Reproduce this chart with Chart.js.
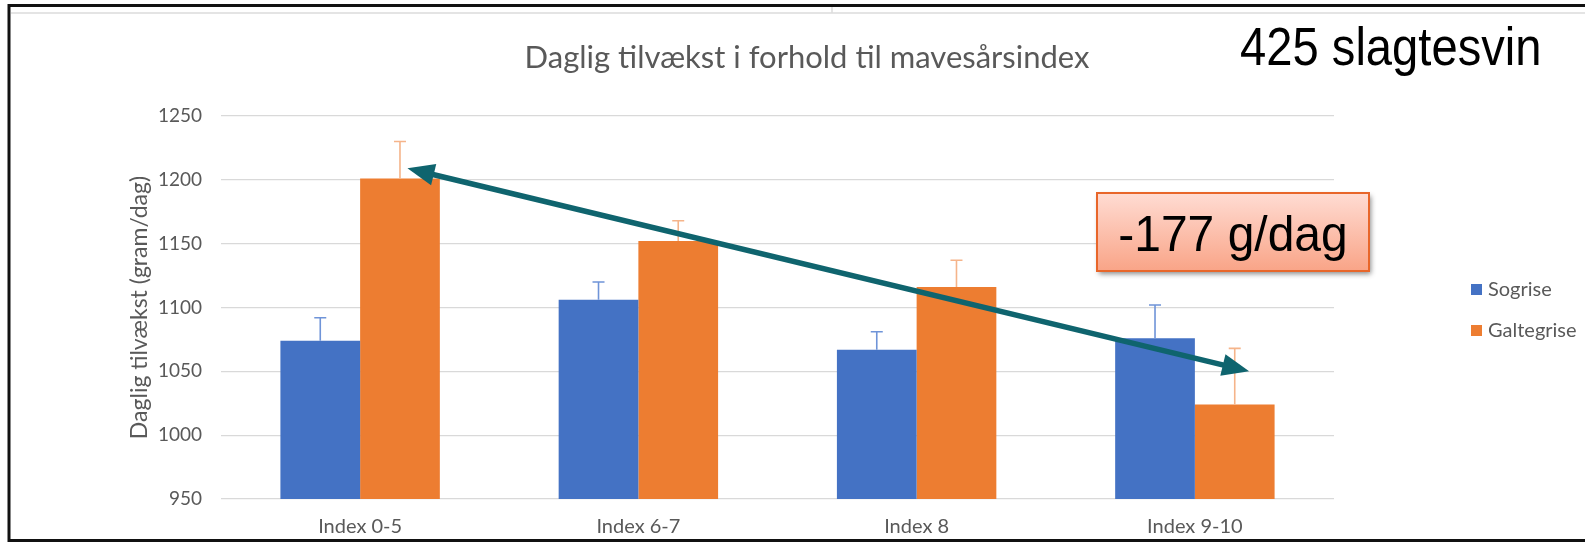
<!DOCTYPE html>
<html>
<head>
<meta charset="utf-8">
<script src="https://cdn.jsdelivr.net/npm/chart.js@4.4.1/dist/chart.umd.min.js"></script>
<style>
  body { margin: 0; background: #fff; }
  #wrap { width: 1585px; height: 542px; }
</style>
</head>
<body>
<div id="wrap"><canvas id="myBarChart" width="1585" height="542"></canvas></div>
<script>
// data
var categories = ['Index 0-5', 'Index 6-7', 'Index 8', 'Index 9-10'];
var sogrise = [1074, 1106, 1067, 1076];
var galtegrise = [1201, 1152, 1116, 1024];
var sogriseErr = [18, 14, 14, 26];
var galtegriseErr = [29, 16, 21, 44];
var seriesNames = ['Sogrise', 'Galtegrise'];
var yMin = 950, yMax = 1250, yStep = 50;

var chartTitle = 'Daglig tilvækst i forhold til mavesårsindex';
var yTitle = 'Daglig tilvækst (gram/dag)';
var headline = '425 slagtesvin';
var callout = '-177 g/dag';
// arrow ends, as [category position, value]
var arrowFrom = [0.17, 1209];
var arrowTo = [3.195, 1050];

var grey = '#595959';
var font = 'Lato, "Open Sans", sans-serif';

function catX(chart, pos) {
    var xs = chart.scales.x;
    var x0 = xs.getPixelForValue(0);
    var step = xs.getPixelForValue(1) - x0;
    return x0 + pos * step;
}

var decor = {
    id: 'decor',
    beforeDraw: function (chart) {
        var ctx = chart.ctx;
        ctx.save();
        ctx.fillStyle = '#fff';
        ctx.fillRect(0, 0, chart.width, chart.height);
        // frame of the slide
        ctx.strokeStyle = '#dcdcdc';
        ctx.lineWidth = 1.5;
        ctx.beginPath();
        ctx.moveTo(11, 13); ctx.lineTo(1585, 13);
        ctx.moveTo(832, 6); ctx.lineTo(832, 13);
        ctx.stroke();
        ctx.strokeStyle = '#111';
        ctx.lineWidth = 3;
        ctx.beginPath();
        ctx.moveTo(1585, 5.5); ctx.lineTo(9, 5.5); ctx.lineTo(9, 540.5); ctx.lineTo(1585, 540.5);
        ctx.stroke();
        ctx.restore();
    },
    afterDatasetsDraw: function (chart) {
        var ctx = chart.ctx;
        var ys = chart.scales.y;
        var errs = [sogriseErr, galtegriseErr];
        var errColors = ['#6f94d8', '#f5b48a'];
        ctx.save();
        // error bars, plus side only
        for (var d = 0; d < 2; d++) {
            var meta = chart.getDatasetMeta(d);
            var vals = chart.data.datasets[d].data;
            ctx.strokeStyle = errColors[d];
            ctx.lineWidth = 1.6;
            meta.data.forEach(function (bar, i) {
                var yTop = ys.getPixelForValue(vals[i] + errs[d][i]);
                ctx.beginPath();
                ctx.moveTo(bar.x, bar.y);
                ctx.lineTo(bar.x, yTop);
                ctx.moveTo(bar.x - 6, yTop);
                ctx.lineTo(bar.x + 6, yTop);
                ctx.stroke();
            });
        }

        // double headed arrow
        var x1 = catX(chart, arrowFrom[0]), y1 = ys.getPixelForValue(arrowFrom[1]);
        var x2 = catX(chart, arrowTo[0]), y2 = ys.getPixelForValue(arrowTo[1]);
        var ang = Math.atan2(y2 - y1, x2 - x1);
        var headLen = 27, headW = 11;
        var cos = Math.cos(ang), sin = Math.sin(ang);
        ctx.strokeStyle = '#0f646e';
        ctx.fillStyle = '#0f646e';
        ctx.lineWidth = 5.5;
        ctx.beginPath();
        ctx.moveTo(x1 + cos * (headLen - 4), y1 + sin * (headLen - 4));
        ctx.lineTo(x2 - cos * (headLen - 4), y2 - sin * (headLen - 4));
        ctx.stroke();
        function head(x, y, dir) {
            var bx = x + dir * cos * headLen, by = y + dir * sin * headLen;
            ctx.beginPath();
            ctx.moveTo(x, y);
            ctx.lineTo(bx - sin * headW, by + cos * headW);
            ctx.lineTo(bx + sin * headW, by - cos * headW);
            ctx.closePath();
            ctx.fill();
        }
        head(x1, y1, 1);
        head(x2, y2, -1);
        ctx.restore();
    },
    afterDraw: function (chart) {
        var ctx = chart.ctx;
        ctx.save();
        // chart title
        ctx.fillStyle = grey;
        ctx.font = '31px ' + font;
        ctx.textAlign = 'center';
        ctx.textBaseline = 'middle';
        ctx.fillText(chartTitle, 807, 58);

        // big headline
        ctx.save();
        ctx.fillStyle = '#000';
        ctx.font = '53px "Liberation Sans", Arial, sans-serif';
        ctx.textAlign = 'left';
        ctx.textBaseline = 'alphabetic';
        ctx.translate(1240, 65);
        ctx.scale(0.89, 1);
        ctx.fillText(headline, 0, 0);
        ctx.restore();

        // callout box
        var bx = 1097, by = 193, bw = 272, bh = 78;
        ctx.save();
        ctx.shadowColor = 'rgba(0,0,0,0.45)';
        ctx.shadowBlur = 5;
        ctx.shadowOffsetX = 2;
        ctx.shadowOffsetY = 3;
        var g = ctx.createLinearGradient(0, by, 0, by + bh);
        g.addColorStop(0, '#ffdcd3');
        g.addColorStop(1, '#f9a487');
        ctx.fillStyle = g;
        ctx.fillRect(bx, by, bw, bh);
        ctx.restore();
        ctx.strokeStyle = '#e8662a';
        ctx.lineWidth = 2;
        ctx.strokeRect(bx, by, bw, bh);
        ctx.save();
        ctx.fillStyle = '#000';
        ctx.font = '50px "Liberation Sans", Arial, sans-serif';
        ctx.textAlign = 'center';
        ctx.textBaseline = 'alphabetic';
        ctx.translate(bx + bw / 2, 251);
        ctx.scale(0.96, 1);
        ctx.fillText(callout, 0, 0);
        ctx.restore();

        // legend
        ctx.font = '20px ' + font;
        ctx.textAlign = 'left';
        ctx.textBaseline = 'middle';
        chart.data.datasets.forEach(function (ds, i) {
            var ly = 290 + i * 41;
            ctx.fillStyle = ds.backgroundColor;
            ctx.fillRect(1471, ly - 6, 11, 11);
            ctx.fillStyle = grey;
            ctx.fillText(ds.label, 1488, ly);
        });
        ctx.restore();
    }
};

var ctx = document.getElementById('myBarChart').getContext('2d');

var myBarChart = new Chart(ctx, {
    type: 'bar',
    data: {
        labels: categories,
        datasets: [{
                label: seriesNames[0],
                data: sogrise,
                backgroundColor: '#4472c4',
                categoryPercentage: 0.573,
                barPercentage: 1
            }, {
                label: seriesNames[1],
                data: galtegrise,
                backgroundColor: '#ed7d31',
                categoryPercentage: 0.573,
                barPercentage: 1
            }]
    },
    options: {
        responsive: false,
        animation: false,
        layout: {
            padding: {top: 116, left: 110, right: 251, bottom: 0}
        },
        plugins: {
            legend: {display: false},
            title: {display: false},
            tooltip: {enabled: false}
        },
        scales: {
            x: {
                grid: {display: false},
                border: {display: false},
                ticks: {
                    color: grey,
                    font: {family: font, size: 20},
                    padding: 8
                },
                afterFit: function (scale) {
                    scale.height = 43;
                }
            },
            y: {
                min: yMin,
                max: yMax,
                grid: {color: '#d9d9d9', lineWidth: 1.3, drawTicks: false},
                border: {display: false},
                ticks: {
                    stepSize: yStep,
                    color: grey,
                    font: {family: font, size: 19},
                    padding: 19,
                    callback: function (v) { return String(v); }
                },
                title: {
                    display: true,
                    text: yTitle,
                    color: grey,
                    font: {family: font, size: 23},
                    padding: {top: 16, bottom: 0}
                },
                afterFit: function (scale) {
                    scale.width = 111;
                }
            }
        }
    },
    plugins: [decor]
});
</script>
</body>
</html>
